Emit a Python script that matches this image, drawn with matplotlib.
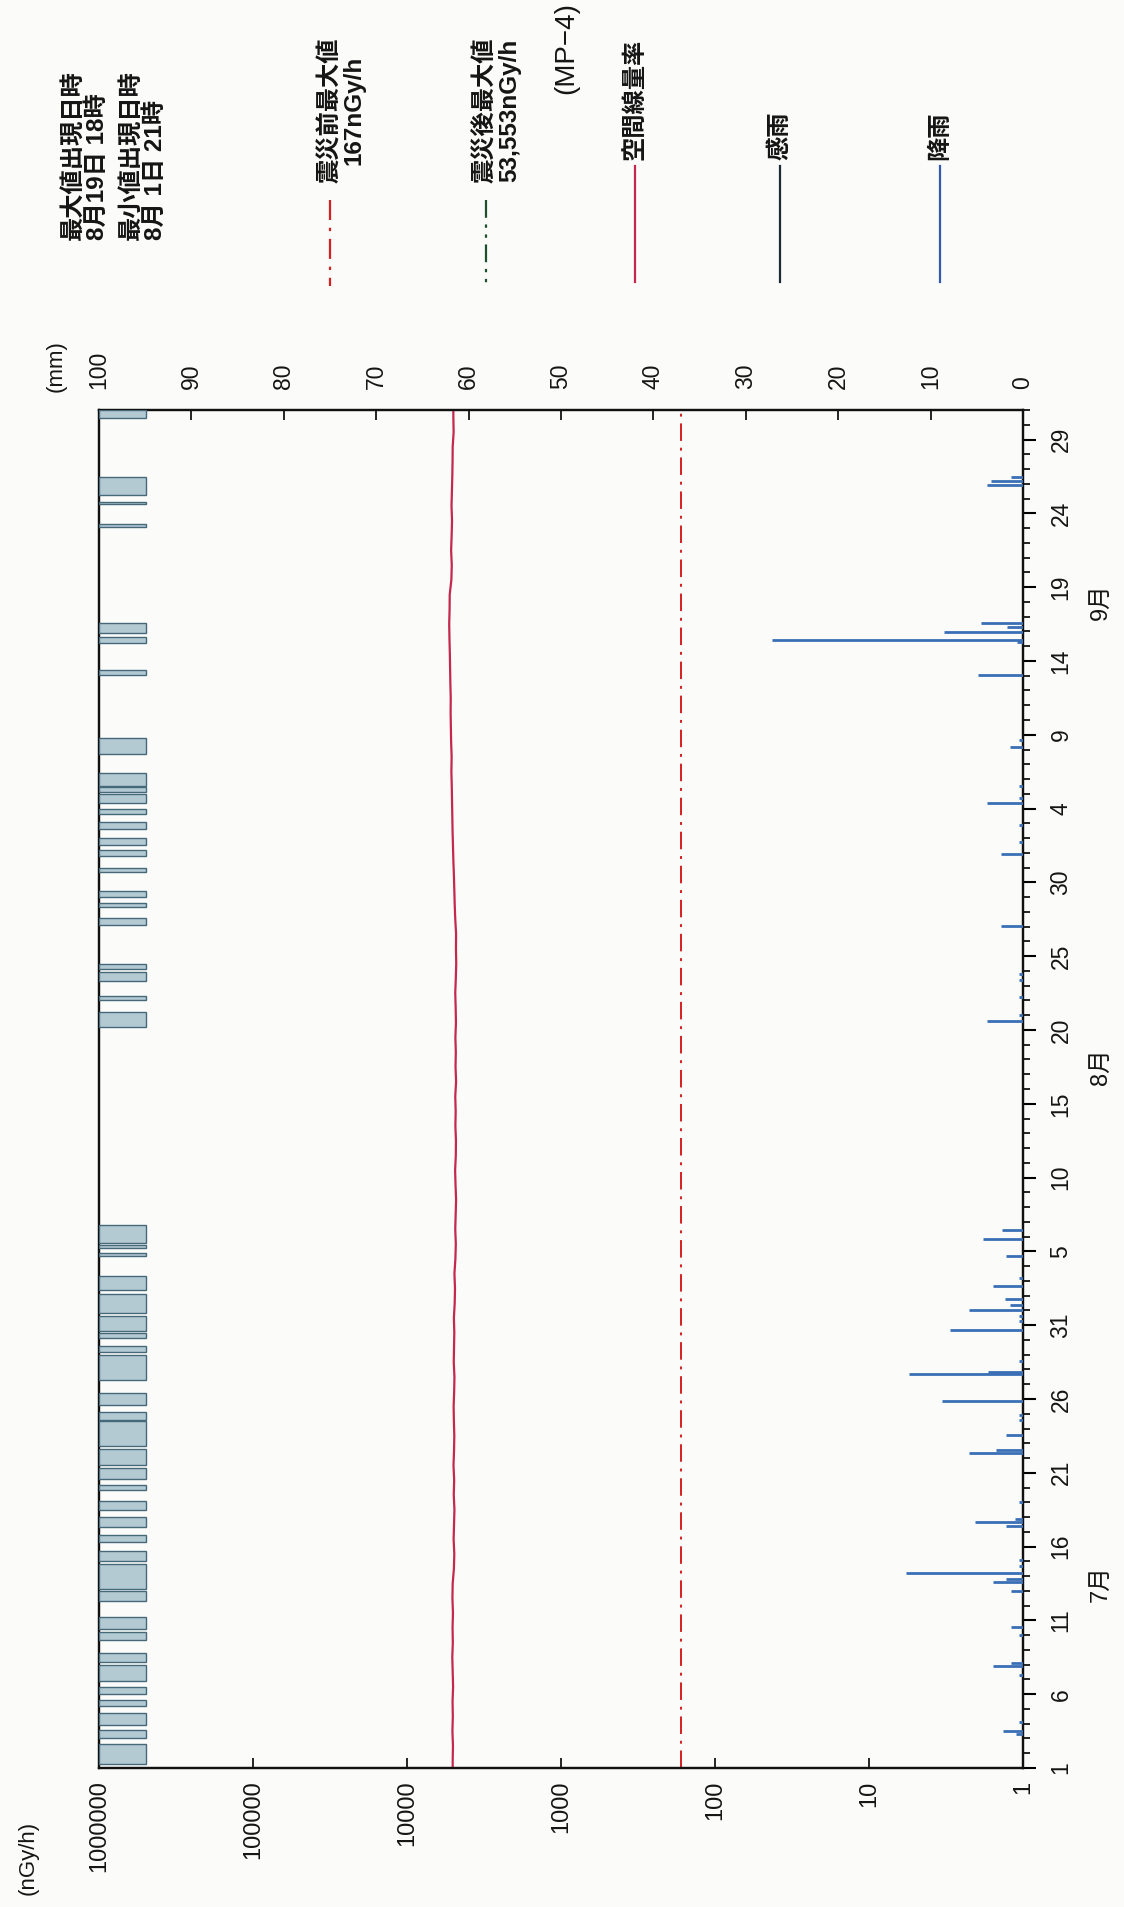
import numpy as np
import matplotlib
matplotlib.use("Agg")
import matplotlib.pyplot as plt
from matplotlib.ticker import NullLocator, FixedLocator
from matplotlib.lines import Line2D

plt.rcParams['font.family'] = ['Liberation Sans', 'Noto Sans CJK JP', 'DejaVu Sans']

# ---------------- data ----------------
n_days = 92  # Jul 1 .. Sep 30
dose_daily = [  # nGy/h, daily, Jul 1 -> Sep 30
    5050, 5030, 5070, 5040, 5060, 5020, 5050, 5080, 5040, 5060, 5030, 5070, 5050,
    4960, 4930, 4980, 4950, 4920, 4970, 4940, 4990, 4950, 4930, 4960, 4980, 4940,
    4920, 4970, 4950, 4930, 4960, 4900, 4880, 4920,
    4850, 4820, 4860, 4830, 4800, 4840, 4870, 4820, 4810, 4850, 4830, 4860, 4800,
    4840, 4820, 4850, 4810, 4830, 4860, 4820, 4790, 4810, 4800,
    4860, 4900, 4930, 4960, 5000, 5030, 5060, 5080, 5100, 5120, 5150, 5130, 5170,
    5190, 5210, 5200, 5230, 5250, 5270,
    5300, 5320, 5290, 5280,
    5150, 5120, 5170, 5130, 5100, 5140, 5110, 5080, 5060, 5050,
    4980, 5000]
pre_quake_max = 167  # nGy/h

# rainfall events: day offset from Jul 1 00:00, amount mm
rain_day = [2.3, 2.5, 3.1, 6.3, 6.9, 7.1, 9.0, 9.56, 11.97, 12.58, 12.8, 13.2, 13.7, 14.1,
            16.4, 16.67, 16.9, 18.0, 21.36, 21.55, 22.58, 23.6, 23.9, 24.85, 26.67, 26.85,
            27.6, 29.67, 30.3, 30.6, 31.03, 31.4, 31.76, 32.65, 33.2, 34.7, 35.86, 36.43,
            50.6, 51.0, 52.2, 53.4, 53.8, 57.06, 61.9, 62.7, 63.9, 65.37, 65.7, 66.5,
            69.2, 69.65, 74.08, 76.28, 76.43, 76.94, 77.33, 77.57, 86.94, 87.18, 87.48]
rain_mm = [0.8, 2.2, 0.4, 0.4, 3.2, 1.3, 0.4, 1.3, 1.3, 3.2, 1.8, 12.7, 0.4, 0.4,
           1.8, 5.2, 0.9, 0.4, 5.8, 2.9, 1.8, 0.4, 0.4, 8.8, 12.3, 3.8,
           0.4, 7.9, 0.4, 0.4, 5.8, 1.4, 2.0, 3.3, 0.4, 1.8, 4.3, 2.3,
           3.9, 0.4, 0.4, 0.4, 0.4, 2.4, 2.4, 0.4, 0.4, 3.9, 0.4, 0.4,
           1.4, 0.4, 4.9, 0.6, 27.2, 8.5, 1.7, 4.5, 3.9, 3.5, 1.3]

# rain-sensor (感雨) periods: start / end, day offset from Jul 1 00:00
sensed_start = [0.3, 2.0, 2.9, 4.2, 5.0, 5.9, 7.2, 8.7, 9.4, 11.3, 12.1, 14.0, 15.3, 16.3,
                17.5, 18.8, 19.6, 20.5, 21.8, 23.6, 24.6, 26.3, 28.2, 29.1, 29.6, 30.8,
                32.4, 34.7, 35.2, 35.6,
                50.2, 52.0, 53.35, 54.15, 57.1, 58.3, 59.0, 60.7, 61.8, 62.5, 63.6, 64.6,
                65.4, 66.15, 66.5, 68.7, 74.05, 76.2, 76.9, 84.1, 85.6, 86.25, 91.46]
sensed_end = [1.6, 2.6, 3.7, 4.6, 5.5, 7.0, 7.8, 9.2, 10.2, 12.0, 13.8, 14.7, 15.8, 17.0,
              18.1, 19.2, 20.3, 21.6, 23.5, 24.1, 25.4, 28.0, 28.6, 29.5, 30.6, 32.1,
              33.3, 34.9, 35.4, 36.8,
              51.25, 52.3, 53.95, 54.5, 57.6, 58.6, 59.4, 61.0, 62.2, 63.0, 64.1, 65.0,
              66.0, 66.45, 67.4, 69.8, 74.4, 76.6, 77.6, 84.3, 85.8, 87.48, 92.0]

date_tick_days = list(range(0, 91, 5))
date_tick_labels = ['1', '6', '11', '16', '21', '26', '31', '5', '10', '15', '20', '25',
                    '30', '4', '9', '14', '19', '24', '29']
month_labels = ['7月', '8月', '9月']
month_pos = [12.5, 47.5, 79.0]
dose_ticks = [1, 10, 100, 1000, 10000, 100000, 1000000]
dose_tick_labels = ['1', '10', '100', '1000', '10000', '100000', '1000000']
mm_ticks = list(range(0, 101, 10))
mm_tick_labels = [str(v) for v in mm_ticks]

# ---------------- styles ----------------
C_DOSE = '#c4284e'
C_PRE = '#d42020'
C_POST = '#1c4f2c'
C_RAIN = '#3a6fb6'
C_SENSE_FILL = '#b3cad3'
C_SENSE_EDGE = '#46697a'
C_SENSE_LEG = '#1c2a38'
C_RAIN_LEG = '#3558b0'
BG = '#fbfbf9'
TXT = '#151515'

W, H = 1124, 1907
fig = plt.figure(figsize=(W / 100, H / 100), dpi=100, facecolor=BG)

def fx(px):
    return px / W

def fy(py):
    return 1 - py / H

ax_l, ax_r, ax_t, ax_b = 99, 1023, 410, 1768
ax = fig.add_axes([fx(ax_l), fy(ax_b), (ax_r - ax_l) / W, (ax_b - ax_t) / H])
ax.set_facecolor(BG)

# dose-rate axis (horizontal, log, inverted)
ax.set_xscale('log')
ax.set_xlim(1e6, 1)
ax.set_ylim(0, n_days)

ax2 = ax.twiny()
ax2.set_xlim(100, 0)

# sensed rain bars (on mm axis, from the 100 mm edge)
s_start = np.array(sensed_start)
s_end = np.array(sensed_end)
sense_w = 5.1
ax2.barh(s_start, sense_w, height=s_end - s_start, left=100 - sense_w, align='edge',
         color=C_SENSE_FILL, edgecolor=C_SENSE_EDGE, linewidth=1.0, zorder=3)

# rainfall
ax2.hlines(rain_day, 0, rain_mm, colors=C_RAIN, linewidth=2.0, zorder=3)

# dose rate line
dose = np.array(dose_daily, dtype=float)
yd = np.arange(n_days) + 0.5
yd = np.concatenate([[0], yd, [n_days]])
vd = np.concatenate([[dose[0]], dose, [dose[-1]]])
ax.plot(vd, yd, color=C_DOSE, linewidth=1.6, zorder=4)

# pre-quake max line
ax.axvline(pre_quake_max, color=C_PRE, linewidth=1.4, linestyle=(0, (9, 3.5, 1.5, 3.5)), zorder=2)

# ticks
ax.xaxis.set_major_locator(FixedLocator(dose_ticks))
ax.xaxis.set_minor_locator(NullLocator())
ax.set_xticklabels(dose_tick_labels)
ax.tick_params(axis='x', which='major', direction='in', length=7, width=1.2, pad=9,
               labelsize=17, labelrotation=90, bottom=True, top=False, labelcolor=TXT)

ax.yaxis.tick_right()
ax.yaxis.set_major_locator(FixedLocator(date_tick_days))
ax.yaxis.set_minor_locator(FixedLocator(list(range(0, n_days + 1))))
ax.set_yticklabels(date_tick_labels)
ax.tick_params(axis='y', which='major', direction='out', length=9, width=1.5, pad=10,
               labelsize=16.5, labelrotation=90, right=True, left=False, labelcolor=TXT)
ax.tick_params(axis='y', which='minor', direction='out', length=5, width=1.2,
               right=True, left=False)
for lbl in ax.get_yticklabels():
    lbl.set_va('center')

ax2.xaxis.set_major_locator(FixedLocator(mm_ticks))
ax2.xaxis.set_minor_locator(NullLocator())
ax2.set_xticklabels(mm_tick_labels)
ax2.tick_params(axis='x', which='major', direction='in', length=7, width=1.2, pad=15,
                labelsize=16.5, labelrotation=90, labelcolor=TXT)

for a in (ax, ax2):
    for sp in a.spines.values():
        sp.set_linewidth(1.6)
        sp.set_color('#111111')

# month labels
ytr = ax.get_yaxis_transform()
for lab, pos in zip(month_labels, month_pos):
    ax.text(1.084, pos, lab, transform=ytr, rotation=90, ha='center', va='center',
            fontsize=17, color=TXT)

# axis unit labels
fig.text(fx(56), fy(366), '(mm)', rotation=90, ha='center', va='center', fontsize=16, color=TXT)
fig.text(fx(28), fy(1858), '(nGy/h)', rotation=90, ha='center', va='center', fontsize=16, color=TXT)

# title
fig.text(fx(566), fy(48), '(MP−4)', rotation=90, ha='center', va='center', fontsize=20, color=TXT)

# header texts
TS = 17.5
HW = 'bold'
fig.text(fx(73), fy(240), '最大値出現日時', rotation=90, ha='center', va='bottom', fontsize=TS, fontweight=HW, color=TXT)
fig.text(fx(97), fy(240), '8月19日 18時', rotation=90, ha='center', va='bottom', fontsize=TS, fontweight=HW, color=TXT)
fig.text(fx(131), fy(240), '最小値出現日時', rotation=90, ha='center', va='bottom', fontsize=TS, fontweight=HW, color=TXT)
fig.text(fx(155), fy(240), '8月 1日 21時', rotation=90, ha='center', va='bottom', fontsize=TS, fontweight=HW, color=TXT)

fig.text(fx(330), fy(110), '震災前最大値', rotation=90, ha='center', va='center', fontsize=TS, fontweight=HW, color=TXT)
fig.text(fx(354), fy(110), '167nGy/h', rotation=90, ha='center', va='center', fontsize=TS, fontweight=HW, color=TXT)
fig.text(fx(486), fy(110), '震災後最大値', rotation=90, ha='center', va='center', fontsize=TS, fontweight=HW, color=TXT)
fig.text(fx(510), fy(110), '53,553nGy/h', rotation=90, ha='center', va='center', fontsize=TS, fontweight=HW, color=TXT)
fig.text(fx(635), fy(160), '空間線量率', rotation=90, ha='center', va='bottom', fontsize=TS, fontweight=HW, color=TXT)
fig.text(fx(780), fy(160), '感雨', rotation=90, ha='center', va='bottom', fontsize=TS, fontweight=HW, color=TXT)
fig.text(fx(940), fy(160), '降雨', rotation=90, ha='center', va='bottom', fontsize=TS, fontweight=HW, color=TXT)

# legend line samples
def leg_line(x, y0, y1, **kw):
    fig.add_artist(Line2D([fx(x), fx(x)], [fy(y0), fy(y1)], transform=fig.transFigure, **kw))

leg_line(330, 200, 286, color=C_PRE, linewidth=1.6, linestyle=(0, (9, 3.5, 1.5, 3.5)))
leg_line(486, 200, 286, color=C_POST, linewidth=1.6, linestyle=(0, (8, 3, 1.5, 3, 1.5, 3)))
leg_line(635, 166, 282, color=C_DOSE, linewidth=1.6)
leg_line(780, 166, 282, color=C_SENSE_LEG, linewidth=1.6)
leg_line(940, 166, 282, color=C_RAIN_LEG, linewidth=1.6)

fig.savefig('out.png', dpi=100, facecolor=BG)
